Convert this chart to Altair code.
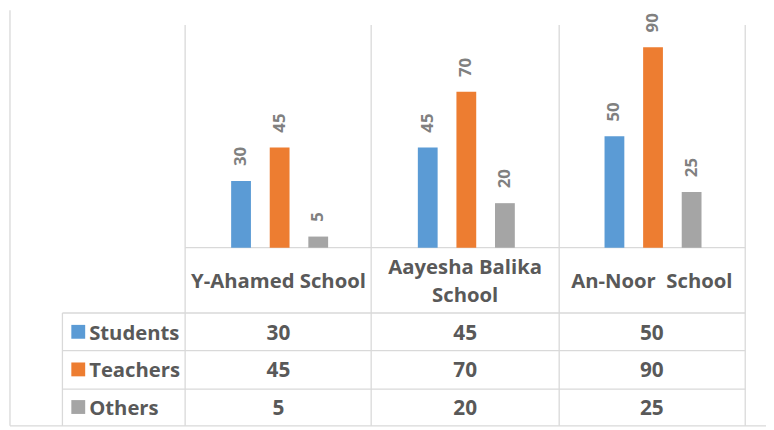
import altair as alt
import pandas as pd

# ---- data ----
schools = ["Y-Ahamed School", "Aayesha Balika School", "An-Noor\u00a0 School"]
school_lines = [["Y-Ahamed School"], ["Aayesha Balika", "School"], ["An-Noor\u00a0 School"]]
series = ["Students", "Teachers", "Others"]
students = [30, 45, 50]
teachers = [45, 70, 90]
others = [5, 20, 25]
colors = ["#5B9BD5", "#ED7D31", "#A5A5A5"]

rows = []
for s, vals in zip(series, [students, teachers, others]):
    for sch, v in zip(schools, vals):
        rows.append({"school": sch, "series": s, "value": v})
df = pd.DataFrame(rows)
header_df = pd.DataFrame({
    "school": schools,
    "label": school_lines,
    "nlines": [len(l) for l in school_lines],
})
legend_df = pd.DataFrame({"series": series})

FONT = "Open Sans"
GRID = "#d9d9d9"
TXT = "#595959"
FS = 20.5

x_scale = alt.Scale(domain=schools, range=[179, 745], paddingInner=0, paddingOuter=0)
xo_scale = alt.Scale(domain=series, range=[37, 154], paddingInner=0.4872, paddingOuter=0.2436)
y_scale = alt.Scale(domain=[0, 100], range=[240, 15], nice=False, zero=True)
row_scale = alt.Scale(domain=series, range=[306, 420], paddingInner=0, paddingOuter=0)
color_scale = alt.Scale(domain=series, range=colors)

X = alt.X("school:N", scale=x_scale, axis=None, sort=schools)
XO = alt.XOffset("series:N", scale=xo_scale, sort=series)
Y = alt.Y("value:Q", scale=y_scale, axis=None)
YR = alt.Y("series:N", scale=row_scale, axis=None, sort=series)
C = alt.Color("series:N", scale=color_scale, legend=None)

one = alt.Data(values=[{"k": 1}])


def vline(x, y1, y2):
    return alt.Chart(one).mark_rule(color=GRID, strokeWidth=1.3).encode(
        x=alt.value(x), y=alt.value(y1), y2=alt.value(y2))


def hline(y, x1, x2):
    return alt.Chart(one).mark_rule(color=GRID, strokeWidth=1.3).encode(
        y=alt.value(y), x=alt.value(x1), x2=alt.value(x2))


rules = [
    vline(2, 0, 420),
    vline(55, 306, 420),
    vline(179, 15, 420),
    vline(367, 15, 420),
    vline(557, 15, 420),
    vline(745, 15, 420),
    hline(240, 179, 745),
    hline(306, 55, 745),
    hline(344, 55, 745),
    hline(383, 55, 745),
    hline(420, 2, 766),
]

bars = alt.Chart(df).mark_bar().encode(x=X, xOffset=XO, y=Y, color=C)

labels = alt.Chart(df).mark_text(
    angle=270, align="left", baseline="middle", dx=15,
    font=FONT, fontWeight="bold", fontSize=17, color="#808080"
).encode(x=X, xOffset=XO, y=Y, text="value:Q")

table_vals = alt.Chart(df).mark_text(
    font=FONT, fontWeight="bold", fontSize=21, color=TXT, baseline="middle", dy=2
).encode(x=X, y=YR, text="value:Q")

headers1 = alt.Chart(header_df).transform_filter("datum.nlines == 1").mark_text(
    font=FONT, fontWeight="bold", fontSize=FS, color=TXT, baseline="middle"
).encode(x=X, y=alt.value(275), text="label")

headers2 = alt.Chart(header_df).transform_filter("datum.nlines == 2").mark_text(
    font=FONT, fontWeight="bold", fontSize=FS, color=TXT, baseline="middle", lineHeight=28
).encode(x=X, y=alt.value(261), text="label")

legend_sq = alt.Chart(legend_df).mark_square(size=196, filled=True, opacity=1).encode(
    x=alt.value(71), y=YR, color=C)

legend_txt = alt.Chart(legend_df).mark_text(
    font=FONT, fontWeight="bold", fontSize=FS, color=TXT, align="left", baseline="middle", dy=2
).encode(x=alt.value(82), y=YR, text="series:N")

chart = alt.layer(
    *rules, bars, labels, table_vals, headers1, headers2, legend_sq, legend_txt
).resolve_scale(y="independent").properties(
    width=766, height=422, padding=0,
    autosize=alt.AutoSizeParams(type="none"),
    background="white",
).configure_view(stroke=None)

chart.save("out.html", embed_options={"renderer": "svg", "actions": False})
